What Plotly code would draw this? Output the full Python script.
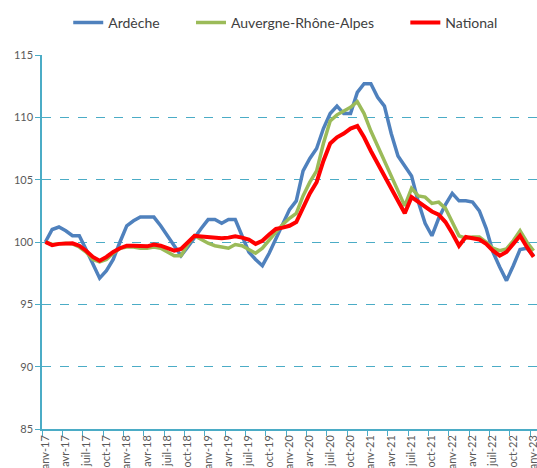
import plotly.graph_objects as go

months = ["janv", "févr", "mars", "avr", "mai", "juin", "juil", "août", "sept", "oct", "nov", "déc"]
years = list(range(17, 24))
categories = [f"{months[m]}-{y}" for y in years for m in range(12)][:73]

ardeche = [100.0, 101.0, 101.2, 100.9, 100.5, 100.5, 99.4, 98.2, 97.1, 97.7,
           98.6, 100.0, 101.3, 101.7, 102.0, 102.0, 102.0, 101.3, 100.5, 99.8,
           98.9, 99.6, 100.4, 101.1, 101.8, 101.8, 101.5, 101.8, 101.8, 100.5,
           99.2, 98.6, 98.1, 99.1, 100.3, 101.4, 102.6, 103.3, 105.7, 106.7,
           107.5, 109.1, 110.3, 110.9, 110.3, 110.3, 112.0, 112.7, 112.7, 111.6,
           110.9, 108.7, 106.9, 106.1, 105.3, 103.2, 101.5, 100.5, 101.9, 103.0,
           103.9, 103.3, 103.3, 103.2, 102.5, 101.1, 99.2, 98.0, 96.9, 98.1,
           99.4, 99.5, 98.9]

ara = [100.0, 99.8, 99.85, 99.9, 99.85, 99.6, 99.2, 98.6, 98.4, 98.6,
       99.1, 99.5, 99.6, 99.6, 99.5, 99.5, 99.6, 99.5, 99.2, 98.9,
       98.9, 99.8, 100.5, 100.2, 99.9, 99.7, 99.6, 99.5, 99.8, 99.7,
       99.4, 99.1, 99.5, 100.2, 100.8, 101.4, 101.9, 102.3, 103.7, 104.8,
       105.7, 107.9, 109.7, 110.2, 110.5, 110.8, 111.25, 110.3, 108.9, 107.7,
       106.5, 105.3, 104.1, 102.9, 104.3, 103.7, 103.6, 103.1, 103.2, 102.7,
       101.6, 100.5, 100.3, 100.4, 100.4, 100.0, 99.5, 99.3, 99.45, 100.1,
       100.9, 100.0, 99.3]

national = [100.0, 99.75, 99.85, 99.9, 99.9, 99.7, 99.3, 98.8, 98.5, 98.8,
            99.2, 99.5, 99.7, 99.7, 99.7, 99.65, 99.8, 99.7, 99.5, 99.3,
            99.45, 100.0, 100.5, 100.45, 100.4, 100.35, 100.3, 100.35, 100.45, 100.35,
            100.2, 99.85, 100.1, 100.6, 101.05, 101.15, 101.3, 101.6, 102.8, 103.9,
            104.8, 106.5, 107.9, 108.4, 108.7, 109.1, 109.3, 108.4, 107.3, 106.3,
            105.4, 104.3, 103.3, 102.3, 103.6, 103.2, 102.8, 102.45, 102.2, 101.6,
            100.7, 99.7, 100.4, 100.3, 100.2, 99.85, 99.3, 98.9, 99.2, 99.85,
            100.5, 99.6, 98.8]

series = [("Ardèche", ardeche, "#4F81BD", 3.5, "legend", 0.053),
          ("Auvergne-Rhône-Alpes", ara, "#9BBB59", 3.5, "legend2", 0.301),
          ("National", national, "#FF0000", 4, "legend3", 0.734)]

y_ticks = [85, 90, 95, 100, 105, 110, 115]
x_idx = list(range(len(categories)))
tick_idx = x_idx[::3]
tick_text = [categories[i] for i in tick_idx]

teal = "#4BACC6"
fig = go.Figure()
legends = {}
for name, vals, col, w, lg, lx in series:
    fig.add_trace(go.Scatter(x=x_idx, y=vals, mode="lines", name=name,
                             line=dict(color=col, width=w), legend=lg))
    legends[lg] = dict(orientation="h", x=lx, xanchor="left", y=1.086, yanchor="middle",
                       font=dict(size=14, color="#404040"), bgcolor="rgba(0,0,0,0)")

fig.update_layout(
    width=537, height=468,
    margin=dict(l=42, r=0, t=55, b=39, autoexpand=False),
    paper_bgcolor="white", plot_bgcolor="white",
    font=dict(family="Lato, Liberation Sans, sans-serif", color="#404040"),
    showlegend=True,
    **legends,
)
fig.update_xaxes(range=[-0.5, 72.5], tickmode="array", tickvals=tick_idx, ticktext=tick_text,
                 tickangle=-90, tickfont=dict(size=11, color="#595959"),
                 ticklabeloverflow="allow",
                 showline=True, linecolor=teal, linewidth=1.5, ticks="",
                 showgrid=False, zeroline=False,
                 minor=dict(tickmode="linear", tick0=-0.5, dtick=3, ticks="outside",
                            ticklen=5, tickcolor=teal, showgrid=False))
fig.update_yaxes(range=[85, 115], tickvals=y_ticks, tickfont=dict(size=11, color="#595959"),
                 showline=True, linecolor=teal, linewidth=1.5, ticks="outside", ticklen=5,
                 tickcolor=teal, showgrid=True, gridcolor=teal, griddash="dash", gridwidth=1,
                 zeroline=False)

fig.write_html("out.html", config={"displayModeBar": False},
               post_script="document.body.style.margin='0';document.body.style.overflow='hidden';")
